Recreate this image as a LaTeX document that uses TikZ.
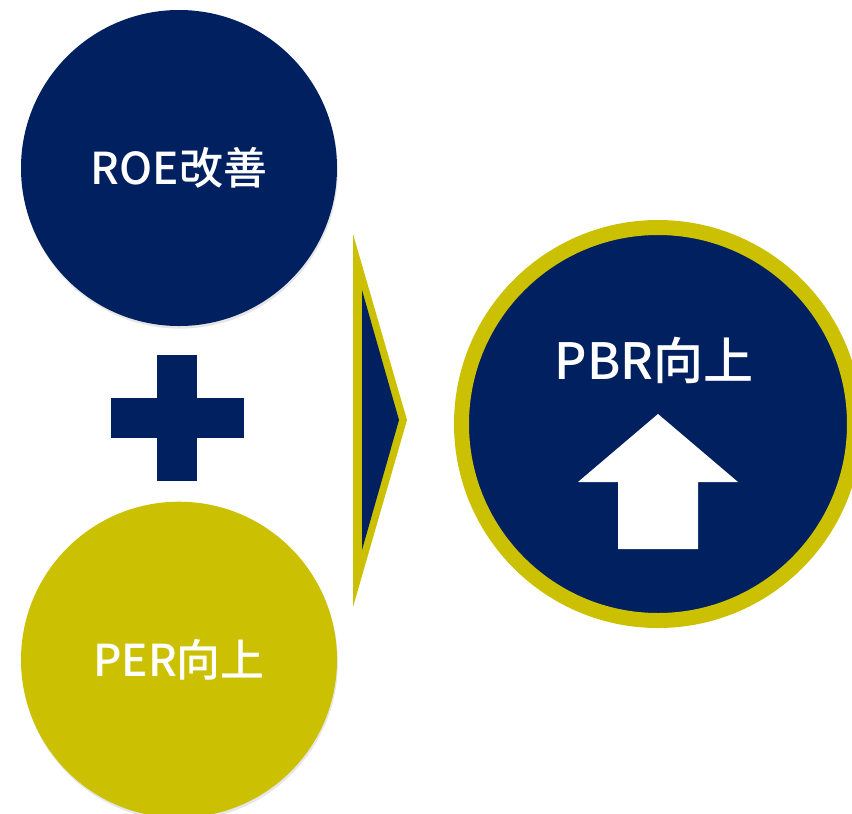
\documentclass[tikz,border=0pt]{standalone}
\usepackage{fontspec}
\setmainfont{Noto Sans CJK JP}
\newfontfamily\medfont{Noto Sans CJK JP Medium}
\usetikzlibrary{positioning,shadows}
\definecolor{navy}{HTML}{002060}
\definecolor{olive}{HTML}{CBC002}

\begin{document}
\begin{tikzpicture}[x=0.2mm,y=-0.2mm,node distance=3.5cm,
    ball/.style={circle,minimum size=6.32cm,inner sep=0pt,text=white,
      font=\medfont\fontsize{25}{28}\selectfont,
      drop shadow={opacity=0.2,shadow xshift=0.5pt,shadow yshift=-1.5pt}}]

  \useasboundingbox (0,0) rectangle (852,813);

  \node[ball,fill=navy] (roe) at (179,168) {ROE改善};
  \node[ball,fill=olive] (per) [below=of roe] {PER向上};

  % plus sign
  \fill[navy] (111,398) rectangle (244,438);
  \fill[navy] (157,355) rectangle (197,481);

  % chevron
  \fill[olive] (353,234) -- (407,420) -- (353,607) -- cycle;
  \fill[navy] (362,290) -- (399,420) -- (362,550) -- cycle;

  \node[circle,minimum size=7.86cm,inner sep=0pt,fill=navy,draw=olive,line width=3mm,
    drop shadow={opacity=0.2,shadow xshift=0.5pt,shadow yshift=-1.5pt}] (pbr) at (658,424) {};
  \node[text=white,font=\medfont\fontsize{28.5}{32}\selectfont] (pbrlabel) at (654,360) {PBR向上};

  % up arrow
  \fill[white] (658,414) -- (738,482) -- (698,482) -- (698,549)
    -- (618,549) -- (618,482) -- (578,482) -- cycle;

\end{tikzpicture}
\end{document}
